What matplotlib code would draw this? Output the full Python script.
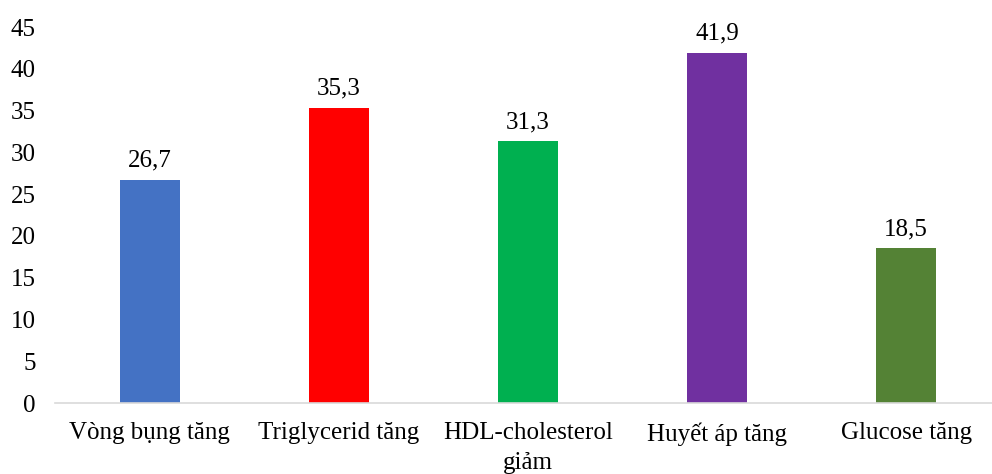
import numpy as np
import matplotlib.pyplot as plt

categories = ["Vòng bụng tăng", "Triglycerid tăng", "HDL-cholesterol\ngiảm", "Huyết áp tăng", "Glucose tăng"]
values = [26.7, 35.3, 31.3, 41.9, 18.5]
colors = ["#4472C4", "#FF0000", "#00B050", "#7030A0", "#548235"]

plt.rcParams['font.family'] = ['Liberation Serif', 'DejaVu Serif']

fig = plt.figure(figsize=(9.92, 4.74), dpi=100)
ax = fig.add_axes([55/992, 71/474, 937/992, 376/474])

x = np.arange(len(categories))
bars = ax.bar(x, values, width=0.317, color=colors)
for xi, v in zip(x, values):
    ax.annotate(f"{v:.1f}".replace(".", ","), (xi, v), xytext=(0, 6), textcoords="offset points",
                ha="center", va="bottom", fontsize=18)

ax.set_xlim(-0.5, 4.454)
ax.set_ylim(0, 45)
ax.set_yticks(range(0, 46, 5))
ax.set_xticks(x)
ax.set_xticklabels(categories, fontsize=18, linespacing=1.45)
ax.tick_params(axis="y", length=0, labelsize=18, pad=14)
ax.tick_params(axis="x", length=0, pad=14)
for s in ["top", "right", "left"]:
    ax.spines[s].set_visible(False)
ax.spines["bottom"].set_color("#D9D9D9")
ax.spines["bottom"].set_linewidth(1.2)

fig.savefig("out.png", dpi=100)
